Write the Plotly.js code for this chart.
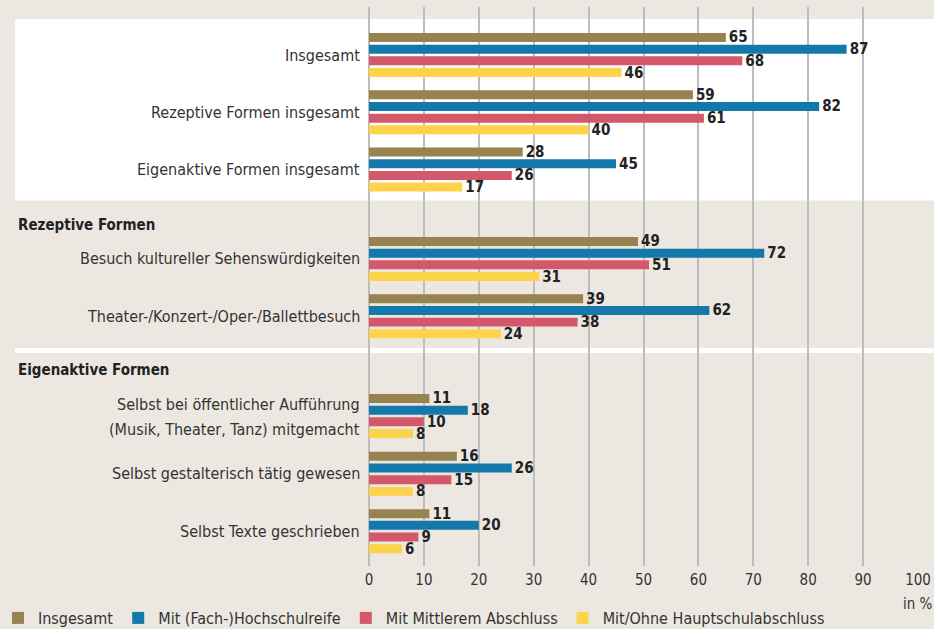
<!DOCTYPE html>
<html>
<head>
<meta charset="utf-8">
<script src="https://cdn.plot.ly/plotly-3.0.1.min.js"></script>
<style>
html,body{margin:0;padding:0;background:#ECE8E1;}
#chart{width:934px;height:629px;}
</style>
</head>
<body>
<div id="chart"></div>
<script>
// ---- data ----
const categories = [
  "Insgesamt",
  "Rezeptive Formen insgesamt",
  "Eigenaktive Formen insgesamt",
  "Besuch kultureller Sehenswürdigkeiten",
  "Theater-/Konzert-/Oper-/Ballettbesuch",
  "Selbst bei öffentlicher Aufführung\n(Musik, Theater, Tanz) mitgemacht",
  "Selbst gestalterisch tätig gewesen",
  "Selbst Texte geschrieben"
];
const sectionHeaders = ["Rezeptive Formen", "Eigenaktive Formen"];
const seriesNames = ["Insgesamt", "Mit (Fach-)Hochschulreife", "Mit Mittlerem Abschluss", "Mit/Ohne Hauptschulabschluss"];
const insgesamt      = [65, 59, 28, 49, 39, 11, 16, 11];
const hochschulreife = [87, 82, 45, 72, 62, 18, 26, 20];
const mittlerer      = [68, 61, 26, 51, 38, 10, 15, 9];
const hauptschule    = [46, 40, 17, 31, 24, 8, 8, 6];
const xTicks = [0, 10, 20, 30, 40, 50, 60, 70, 80, 90, 100];
const unitLabel = "in %";

// ---- layout constants ----
const groupPos = [0, 1, 2, 3.56, 4.56, 6.3, 7.31, 8.31];
const headerPos = [2.967, 5.497];
const colors = ["#96834F", "#1478AA", "#D2586A", "#FDD34A"];
const PX0 = 55, PXU = 57.3;               // pixel -> y unit helper
const py = p => (p - PX0) / PXU;
const W = 934, H = 629;
const plotL = 369, plotR = 918, plotT = 7, plotB = 566;
const pxX = p => (p - plotL) / (plotR - plotL);
const pxY = p => (plotB - p) / (plotB - plotT);
const FONT = "'DejaVu Sans Condensed', 'Liberation Sans Narrow', 'Roboto Condensed', sans-serif";
const TXT = "#333333";

const seriesVals = [insgesamt, hochschulreife, mittlerer, hauptschule];
const traces = seriesVals.map((vals, i) => ({
  type: "bar",
  orientation: "h",
  name: seriesNames[i],
  x: vals,
  y: groupPos,
  marker: {color: colors[i], line: {width: 0}},
  text: vals.map(String),
  textposition: "outside",
  constraintext: "none",
  cliponaxis: false,
  textfont: {family: FONT, size: 15, color: "#222222", weight: "bold"},
  hoverinfo: "x+name"
}));

const annotations = [];
categories.forEach((c, i) => {
  const lines = c.split("\n");
  if (lines.length === 1) {
    annotations.push({xref: "paper", yref: "y", x: pxX(362), y: groupPos[i], xanchor: "right", yanchor: "middle",
      text: lines[0], showarrow: false, font: {family: FONT, size: 16, color: TXT}});
  } else {
    const shifts = [11, -13.5];
    lines.forEach((l, k) => annotations.push({xref: "paper", yref: "y", x: pxX(362), y: groupPos[i], yshift: shifts[k],
      xanchor: "right", yanchor: "middle", text: l, showarrow: false, font: {family: FONT, size: 16, color: TXT}}));
  }
});
sectionHeaders.forEach((h, i) => annotations.push({xref: "paper", yref: "y", x: pxX(16), y: headerPos[i],
  xanchor: "left", yanchor: "middle", text: "<b>" + h + "</b>", showarrow: false,
  font: {family: FONT, size: 15, color: "#222222"}}));
annotations.push({xref: "paper", yref: "paper", x: pxX(901), y: pxY(604),
  xanchor: "left", yanchor: "middle", text: unitLabel, showarrow: false, font: {family: FONT, size: 15, color: TXT}});

const shapes = [
  {type: "rect", xref: "paper", yref: "y", x0: pxX(15), x1: pxX(940), y0: py(19), y1: py(200.5),
   fillcolor: "#FFFFFF", line: {width: 0}, layer: "below"},
  {type: "rect", xref: "paper", yref: "y", x0: pxX(15), x1: pxX(940), y0: py(348), y1: py(353),
   fillcolor: "#FFFFFF", line: {width: 0}, layer: "below"}
];

const layout = {
  width: W, height: H,
  paper_bgcolor: "#ECE8E1",
  plot_bgcolor: "rgba(0,0,0,0)",
  margin: {l: plotL, r: W - plotR, t: plotT, b: H - plotB, pad: 0, autoexpand: false},
  barmode: "group",
  bargap: 0.185,
  bargroupgap: 0.23,
  showlegend: true,
  legend: {orientation: "h", x: pxX(-2), xanchor: "left",
    y: pxY(601), yanchor: "top", itemwidth: 30,
    font: {family: FONT, size: 16, color: TXT}, bgcolor: "rgba(0,0,0,0)", traceorder: "normal"},
  xaxis: {range: [0, 100], tickvals: xTicks, ticktext: xTicks.map(String), showgrid: true,
    gridcolor: "#BDBDBD", gridwidth: 2, zeroline: true, zerolinecolor: "#BDBDBD", zerolinewidth: 2,
    showline: false, ticks: "", ticklabelstandoff: 3, tickfont: {family: FONT, size: 15, color: TXT}, fixedrange: true},
  yaxis: {range: [py(plotB), py(plotT)], showticklabels: false, showgrid: false, zeroline: false,
    showline: false, ticks: "", fixedrange: true},
  annotations: annotations,
  shapes: shapes
};

Plotly.newPlot("chart", traces, layout, {displayModeBar: false, staticPlot: true});
</script>
</body>
</html>
